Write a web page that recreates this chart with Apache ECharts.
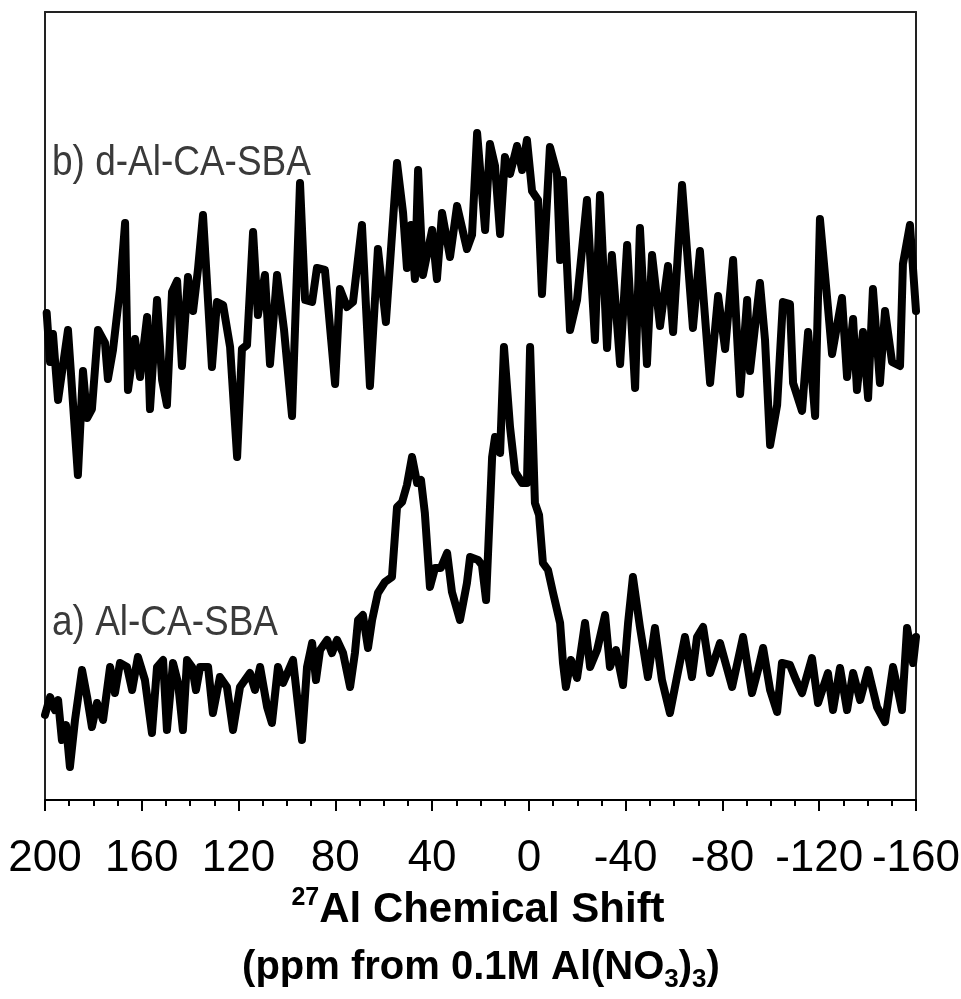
<!DOCTYPE html>
<html>
<head>
<meta charset="utf-8">
<script src="https://cdn.jsdelivr.net/npm/echarts@6/dist/echarts.min.js"></script>
<style>
  html, body { margin: 0; padding: 0; background: #fff; }
  #chart { width: 961px; height: 999px; }
</style>
</head>
<body>
<div id="chart"></div>
<script>
// 27Al MAS NMR spectra: [chemical shift (ppm), intensity (a.u.)]
const spectrumB = [ // b) d-Al-CA-SBA
  [199.3,487],[197.9,438],[196.7,466],[194.6,400],[190.5,470],[186.4,325],[184.3,429],[182.6,382],[180.6,391],[178.1,470],
  [175.2,457],[174.0,421],[171.9,450],[169.0,511],[166.9,577],[165.7,410],[162.8,461],[160.7,423],[157.8,483],[156.6,391],
  [153.7,500],[151.6,420],[149.6,395],[147.5,508],[145.4,519],[143.4,434],[140.9,523],[138.8,489],[136.8,530],[134.7,585],
  [131.0,433],[128.9,498],[126.4,495],[123.5,453],[120.6,343],[118.6,451],[116.5,455],[114.0,568],[112.0,485],[109.1,525],
  [107.0,436],[104.1,525],[101.2,470],[97.9,384],[94.6,617],[92.5,500],[89.6,498],[87.6,532],[84.3,530],[80.1,416],
  [78.1,511],[75.2,493],[72.7,498],[69.0,575],[65.7,414],[62.4,551],[59.1,478],[54.5,637],[52.0,587],[50.4,532],
  [48.7,575],[47.1,521],[45.8,630],[43.8,525],[41.7,550],[40.0,570],[38.0,521],[35.9,587],[32.6,543],[29.7,594],
  [25.6,551],[23.5,565],[21.4,667],[18.1,570],[16.1,656],[14.0,634],[11.9,566],[9.9,643],[7.8,626],[4.9,654],
  [2.8,630],[0.8,660],[-1.3,609],[-3.8,600],[-5.4,506],[-8.7,653],[-11.6,627],[-12.9,540],[-14.1,620],[-17.0,470],
  [-19.9,500],[-24.0,600],[-27.3,460],[-29.4,605],[-32.3,452],[-34.3,545],[-37.7,436],[-40.6,555],[-43.9,412],[-45.9,572],
  [-48.8,436],[-50.9,545],[-54.2,474],[-57.5,534],[-59.6,468],[-63.3,615],[-67.8,472],[-70.7,549],[-74.9,417],[-78.2,504],
  [-81.1,451],[-84.4,540],[-87.3,406],[-90.2,500],[-91.4,429],[-95.5,517],[-97.6,460],[-99.7,355],[-102.6,395],[-105.0,498],
  [-107.9,496],[-109.2,417],[-112.9,389],[-115.4,468],[-118.3,384],[-120.3,581],[-123.6,493],[-125.3,446],[-129.4,502],[-131.5,423],
  [-134.0,481],[-135.6,410],[-138.1,468],[-140.2,402],[-142.2,511],[-145.1,417],[-147.2,489],[-150.1,438],[-153.4,434],[-154.6,536],
  [-157.5,575],[-160.0,489]
];

const spectrumA = [ // a) Al-CA-SBA
  [200.0,85],[197.9,103],[195.9,90],[194.6,100],[193.0,60],[191.3,75],[189.7,33],[187.6,80],[184.7,130],[182.6,103],
  [180.6,73],[178.5,97],[176.0,80],[173.1,133],[171.1,107],[169.0,137],[166.1,133],[164.0,110],[161.6,143],[158.7,120],
  [155.8,67],[153.7,133],[151.2,140],[149.6,70],[147.1,137],[145.0,117],[143.0,70],[141.3,140],[139.2,133],[137.6,110],
  [135.9,133],[132.6,133],[130.6,87],[127.7,123],[124.8,113],[122.3,70],[119.4,113],[115.3,127],[113.2,110],[111.1,133],
  [108.2,93],[106.2,77],[103.7,133],[101.6,117],[97.5,140],[93.8,60],[91.7,133],[89.6,157],[88.0,120],[86.3,150],
  [83.4,160],[81.4,147],[79.3,160],[76.8,147],[73.9,113],[71.9,147],[70.6,180],[68.6,185],[66.5,152],[64.8,180],
  [62.4,207],[59.5,218],[56.6,223],[54.5,293],[52.4,298],[50.4,315],[48.3,343],[46.2,317],[44.6,320],[43.0,287],
  [40.9,213],[38.8,232],[36.4,232],[33.8,247],[31.8,208],[28.5,180],[25.6,217],[24.3,243],[21.0,240],[19.4,235],
  [17.7,200],[15.2,343],[14.0,363],[11.9,347],[10.3,453],[7.8,373],[5.7,328],[2.8,317],[0.8,317],[-0.5,453],
  [-2.5,297],[-4.2,285],[-5.8,237],[-7.9,230],[-10.0,207],[-12.9,177],[-14.1,137],[-15.3,113],[-17.4,140],[-19.9,122],
  [-23.2,177],[-25.3,133],[-28.2,150],[-31.5,185],[-33.5,133],[-36.0,150],[-38.9,115],[-41.0,177],[-43.0,223],[-45.9,173],
  [-49.2,123],[-52.1,172],[-55.0,120],[-58.3,87],[-61.2,123],[-64.5,163],[-67.4,123],[-69.5,163],[-72.0,173],[-74.9,127],
  [-79.0,157],[-81.5,135],[-84.0,113],[-88.5,163],[-92.2,107],[-94.7,130],[-96.8,152],[-99.7,110],[-102.6,88],[-104.6,137],
  [-107.9,135],[-110.4,120],[-112.9,107],[-117.0,142],[-119.5,97],[-123.6,127],[-125.7,90],[-128.6,132],[-131.5,90],[-134.0,127],
  [-136.9,100],[-140.2,130],[-143.9,93],[-147.2,78],[-150.5,133],[-154.2,90],[-156.3,172],[-158.8,137],[-160.0,163]
];

const seriesNames = ['b) d-Al-CA-SBA', 'a) Al-CA-SBA'];
const shiftRange = { min: -160, max: 200, step: 40 };
const intensityRange = { min: 0, max: 788 };

const FONT = '"Liberation Sans", Arial, Helvetica, sans-serif';

const chart = echarts.init(document.getElementById('chart'), null, { renderer: 'canvas' });

const frameAxis = (pos) => ({
  type: 'value', position: pos,
  min: shiftRange.min, max: shiftRange.max, interval: shiftRange.step, inverse: true,
  axisLine: { show: true, onZero: false, lineStyle: { color: '#222', width: 2 } },
  axisTick: { show: false }, axisLabel: { show: false }, splitLine: { show: false }
});
const sideAxis = (pos) => ({
  type: 'value', position: pos, min: intensityRange.min, max: intensityRange.max,
  axisLine: { show: true, onZero: false, lineStyle: { color: '#222', width: 2 } },
  axisTick: { show: false }, axisLabel: { show: false }, splitLine: { show: false }
});

chart.setOption({
  animation: false,
  backgroundColor: '#fff',
  grid: { left: 45, right: 45, top: 12, bottom: 199, containLabel: false, outerBoundsMode: 'none' },
  xAxis: [
    {
      type: 'value', position: 'bottom',
      min: shiftRange.min, max: shiftRange.max, interval: shiftRange.step, inverse: true,
      axisLine: { show: true, onZero: false, lineStyle: { color: '#000', width: 2 } },
      axisTick: { show: true, inside: false, length: 11, lineStyle: { color: '#000', width: 2 } },
      minorTick: { show: true, splitNumber: 4, length: 6, lineStyle: { color: '#000', width: 2 } },
      splitLine: { show: false }, minorSplitLine: { show: false },
      axisLabel: {
        fontFamily: FONT, fontSize: 44, color: '#000', margin: 37,
        showMinLabel: true, showMaxLabel: true, hideOverlap: false
      }
    },
    frameAxis('top')
  ],
  yAxis: [sideAxis('left'), sideAxis('right')],
  series: [spectrumB, spectrumA].map((data, i) => ({
    name: seriesNames[i],
    type: 'line',
    xAxisIndex: 0, yAxisIndex: 0,
    data: data,
    showSymbol: false,
    clip: true,
    lineStyle: { color: '#000', width: 8, join: 'round', cap: 'round' }
  })),
  graphic: [
    {
      type: 'text', x: 52, y: 142, scaleX: 0.86,
      style: { text: seriesNames[0], font: '43px ' + FONT, fill: '#3a3a3a', align: 'left', verticalAlign: 'top' }
    },
    {
      type: 'text', x: 52, y: 602, scaleX: 0.86,
      style: { text: seriesNames[1], font: '43px ' + FONT, fill: '#3a3a3a', align: 'left', verticalAlign: 'top' }
    },
    {
      type: 'text', x: 478, y: 886,
      style: {
        text: '{sup|27}{t|Al Chemical Shift}', align: 'center', verticalAlign: 'top',
        rich: {
          sup: { fontFamily: FONT, fontWeight: 'bold', fontSize: 25, fill: '#000', verticalAlign: 'top', lineHeight: 48 },
          t: { fontFamily: FONT, fontWeight: 'bold', fontSize: 42, fill: '#000', lineHeight: 48 }
        }
      }
    },
    {
      type: 'text', x: 481, y: 943,
      style: {
        text: '{t|(ppm from 0.1M Al(NO}{sub|3}{t|)}{sub|3}{t|)}', align: 'center', verticalAlign: 'top',
        rich: {
          t: { fontFamily: FONT, fontWeight: 'bold', fontSize: 40, fill: '#000', lineHeight: 50 },
          sub: { fontFamily: FONT, fontWeight: 'bold', fontSize: 26, fill: '#000', verticalAlign: 'bottom', lineHeight: 50 }
        }
      }
    }
  ]
});
</script>
</body>
</html>
